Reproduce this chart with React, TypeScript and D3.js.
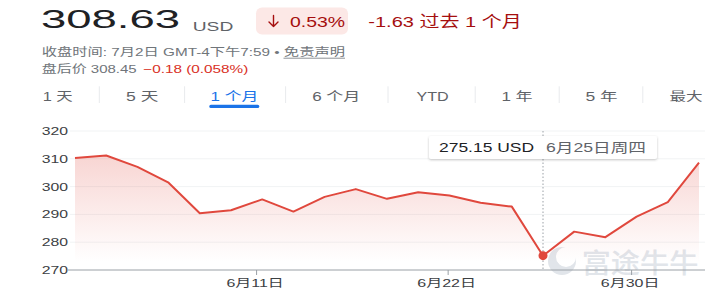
import React from "react";
import * as d3 from "d3";

// ---- data ----
const dates = [
  "6/4", "6/5", "6/8", "6/9", "6/10", "6/11", "6/12", "6/15", "6/16", "6/17", "6/18",
  "6/19", "6/22", "6/23", "6/24", "6/25", "6/26", "6/29", "6/30", "7/1", "7/2",
];
const prices = [
  310.3, 311.2, 307.1, 301.4, 290.4, 291.5, 295.4, 291.0, 296.3, 299.1, 295.6,
  298.0, 296.8, 294.2, 292.8, 275.15, 283.8, 281.8, 289.2, 294.4, 308.63,
];
const yTicks = [270, 280, 290, 300, 310, 320];
const xTickLabels = ["6月11日", "6月22日", "6月30日"];
const xTickIndex = [5.82, 11.96, 17.84];
const tabLabels = ["1 天", "5 天", "1 个月", "6 个月", "YTD", "1 年", "5 年", "最大"];
const activeTab = 2;
const hoverIndex = 15;

// ---- layout (not data) ----
const W = 720;
const H = 302;
const FONT = "'Liberation Sans', Arial, 'Noto Sans CJK SC', sans-serif";
const tabStart = [42.7, 126, 210.6, 312.2, 416.4, 501.4, 585.4, 669.4];
const tabWidth = [30, 32.3, 47.8, 48.2, 32.2, 31.2, 32.1, 33.1];
const sepX = [99.3, 184.6, 285.6, 388, 475.2, 559.2, 642.8];
const xTickLabelW = [57.3, 58.7, 58.6];

function T(props: any) {
  const { x, y, w, size, fill, weight, children } = props;
  return (
    <text
      x={x}
      y={y}
      fontSize={size}
      fill={fill}
      fontWeight={weight || 400}
      fontFamily={FONT}
      textLength={w}
      lengthAdjust="spacingAndGlyphs"
    >
      {children}
    </text>
  );
}

export default function App() {
  const x = d3.scaleLinear().domain([0, prices.length - 1]).range([75, 699]);
  const y = d3.scaleLinear().domain([270, 320]).range([270, 131]);

  const line = d3
    .line<number>()
    .x((_, i) => x(i))
    .y((d) => y(d));
  const area = d3
    .area<number>()
    .x((_, i) => x(i))
    .y0(y(270))
    .y1((d) => y(d));

  const hx = x(hoverIndex);
  const hy = y(prices[hoverIndex]);
  const lineColor = "#e0483d";

  return (
    <svg
      width={W}
      height={H}
      style={{ position: "absolute", left: 0, top: 0, background: "#fff" }}
    >
      <defs>
        <linearGradient id="areaGrad" gradientUnits="userSpaceOnUse" x1="0" y1="150" x2="0" y2="262">
          <stop offset="0" stopColor="#e0483d" stopOpacity="0.24" />
          <stop offset="1" stopColor="#e0483d" stopOpacity="0" />
        </linearGradient>
        <filter id="shadow" x="-10%" y="-40%" width="120%" height="180%">
          <feDropShadow dx="0" dy="1" stdDeviation="1.2" floodColor="#3c4043" floodOpacity="0.3" />
        </filter>
      </defs>

      {/* header */}
      <T x={41} y={28.3} w={139} size={25.5} fill="#202124">308.63</T>
      <T x={192.7} y={30.7} w={40.6} size={12.6} fill="#5f6368">USD</T>
      <rect x={256} y={7.5} width={92} height={27} rx={6} fill="#fce8e6" />
      <path d="M273.5,15.5 V26.5 M269,22 L273.5,26.5 L278,22" fill="none" stroke="#a50e0e"
        strokeWidth={1.4} strokeLinecap="round" strokeLinejoin="round" />
      <T x={290} y={26.7} w={55} size={15.4} fill="#a50e0e">0.53%</T>
      <T x={368.3} y={26.7} w={153.4} size={15.5} fill="#a50e0e">-1.63 过去 1 个月</T>
      <T x={41.7} y={56.2} w={303.3} size={11.5} fill="#70757a">收盘时间: 7月2日 GMT-4下午7:59 • 免责声明</T>
      <line x1={283.5} x2={345} y1={58.2} y2={58.2} stroke="#70757a" strokeWidth={0.8} />
      <T x={41.7} y={72.8} w={95} size={11.5} fill="#70757a">盘后价 308.45</T>
      <T x={143.3} y={72.8} w={105} size={11.5} fill="#d93025">−0.18 (0.058%)</T>

      {/* tabs */}
      {tabLabels.map((t, i) => (
        <T key={t} x={tabStart[i]} y={100.5} w={tabWidth[i]} size={12}
          fill={i === activeTab ? "#1a73e8" : "#5f6368"}>{t}</T>
      ))}
      {sepX.map((sx) => (
        <line key={sx} x1={sx} x2={sx} y1={86.3} y2={103} stroke="#e8eaed" strokeWidth={1} />
      ))}
      <rect x={209.3} y={104.7} width={50} height={3.3} rx={1.6} fill="#1a73e8" />

      {/* grid */}
      {yTicks.filter((t) => t !== 270).map((t) => (
        <line key={t} x1={70} x2={705} y1={y(t)} y2={y(t)} stroke="#f1f3f4" strokeWidth={1} />
      ))}
      {yTicks.map((t) => (
        <T key={t} x={41.7} y={y(t) + 4} w={26.3} size={11} fill="#3c4043">{String(t)}</T>
      ))}

      {/* watermark */}
      <g>
        <circle cx={562} cy={261} r={14} fill="#e1e5ea" />
        <circle cx={566} cy={257} r={10} fill="#fff" />
        <circle cx={556} cy={265} r={2.8} fill="#e1e5ea" />
        <T x={581.7} y={272.5} w={116.7} size={27} weight={500} fill="#e1e5ea">富途牛牛</T>
      </g>

      {/* area + line */}
      <path d={area(prices) || ""} fill="url(#areaGrad)" />
      <line x1={68} x2={705} y1={y(270)} y2={y(270)} stroke="#9aa0a6" strokeWidth={1} />
      {xTickIndex.map((ti, i) => (
        <g key={xTickLabels[i]}>
          <line x1={x(ti)} x2={x(ti)} y1={270} y2={275} stroke="#9aa0a6" strokeWidth={1} />
          <T x={x(ti) - 1.5 - xTickLabelW[i] / 2} y={286.5} w={xTickLabelW[i]} size={11.5} fill="#3c4043">
            {xTickLabels[i]}
          </T>
        </g>
      ))}
      <line x1={hx} x2={hx} y1={131} y2={270} stroke="#9aa0a6" strokeWidth={1} strokeDasharray="1.5,2" />
      <path d={line(prices) || ""} fill="none" stroke={lineColor} strokeWidth={2} strokeLinejoin="round" />
      <circle cx={hx} cy={hy} r={4.5} fill={lineColor} />

      {/* tooltip */}
      <rect x={429} y={136} width={228} height={23} rx={2} fill="#fff" filter="url(#shadow)" />
      <T x={439} y={151.7} w={95} size={13.5} fill="#202124">{`${prices[hoverIndex].toFixed(2)} USD`}</T>
      <T x={546} y={151.7} w={100} size={13} fill="#5f6368">6月25日周四</T>
    </svg>
  );
}
